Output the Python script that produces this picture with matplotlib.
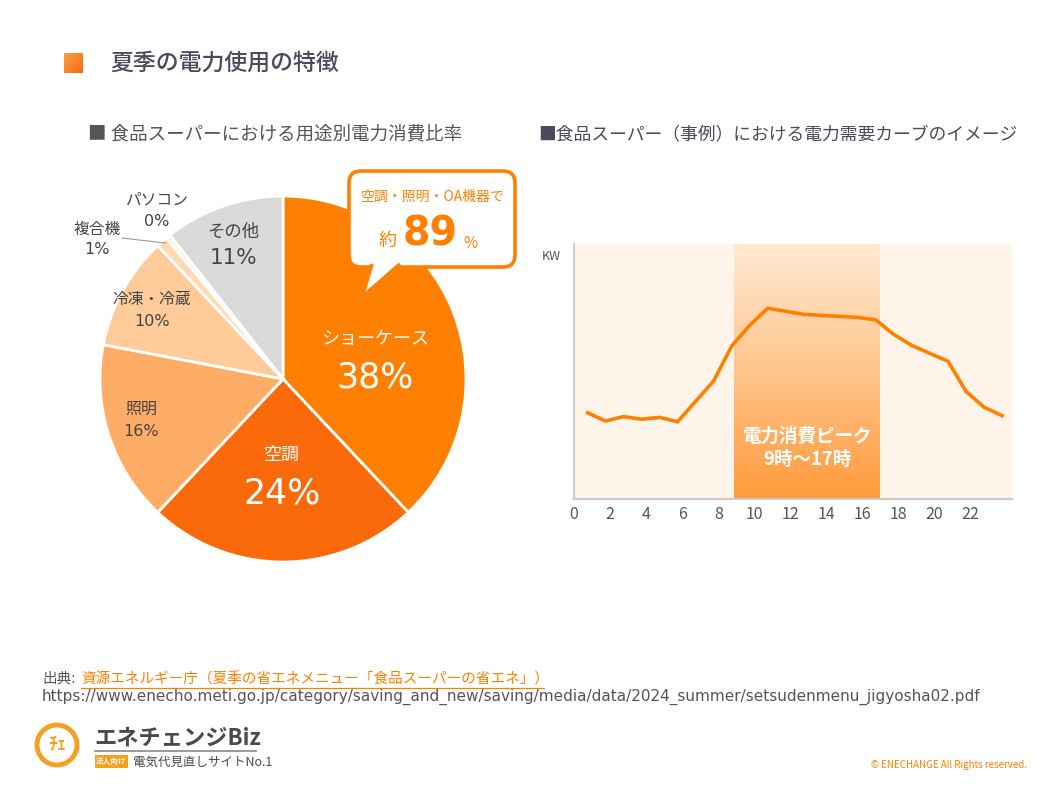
import numpy as np
import matplotlib
matplotlib.use("Agg")
import matplotlib.pyplot as plt
import matplotlib.patches as patches
from matplotlib.colors import LinearSegmentedColormap

plt.rcParams["font.family"] = ["Noto Sans CJK JP", "DejaVu Sans"]

# ---- data ----
pie_labels = ["ショーケース", "空調", "照明", "冷凍・冷蔵", "複合機", "パソコン", "その他"]
pie_pct_text = ["38%", "24%", "16%", "10%", "1%", "0%", "11%"]
pie_values = [38, 24, 16, 10, 1, 0.4, 10.6]
pie_colors = ["#FF8000", "#FA690A", "#FFAD66", "#FFCB99", "#FFD9B3", "#FFEBD6", "#DADADA"]

hours = [0.75, 1.75, 2.75, 3.75, 4.75, 5.75, 6.75, 7.75, 8.75, 9.75, 10.75, 11.75,
         12.75, 13.75, 14.75, 15.75, 16.75, 17.75, 18.75, 19.75, 20.75, 21.75, 22.75, 23.75]
demand = [33.8, 30.6, 32.3, 31.3, 32.0, 30.3, 38.3, 46.3, 60.0, 68.1, 74.8, 73.6,
          72.4, 72.0, 71.6, 71.2, 70.2, 64.5, 60.2, 57.1, 54.0, 42.2, 36.0, 32.7]
peak_start, peak_end = 8.9, 17.0
x_ticks = list(range(0, 24, 2))

W, H = 1058, 794
fig = plt.figure(figsize=(W / 100, H / 100), dpi=100)
fig.patch.set_facecolor("white")


def fbox(left, top, right, bottom):
    # pixel box (from top-left) -> figure fraction rect
    return [left / W, 1 - bottom / H, (right - left) / W, (bottom - top) / H]


# ---- pie ----
cx, cy, R = 283, 379, 183
half = 240
ax_pie = fig.add_axes(fbox(cx - half, cy - half, cx + half, cy + half))
ax_pie.pie(pie_values, colors=pie_colors, startangle=90, counterclock=False,
           radius=1.0, wedgeprops=dict(edgecolor="white", linewidth=2))
lim = half / R
ax_pie.set_xlim(-lim, lim)
ax_pie.set_ylim(-lim, lim)
ax_pie.set_aspect("equal")
ax_pie.axis("off")

# label layout (pixel centres of name line / pct line, sizes, colour)
label_layout = [
    ((375, 339), (375, 378), 13, 25, "white"),
    ((282, 455), (282, 493), 13, 25, "white"),
    ((141, 409), (141, 431), 11.5, 11.5, "#444444"),
    ((152, 299), (152, 321), 11.3, 11.5, "#444444"),
    ((97, 229), (97, 250), 11.3, 11.5, "#444444"),
    ((157, 200), (157, 222), 11.3, 11.5, "#444444"),
    ((233, 232), (233, 258), 12.5, 15.5, "#444444"),
]


def to_pie(p):
    return ((p[0] - cx) / R, (cy - p[1]) / R)


for name, pct, (p1, p2, s1, s2, col) in zip(pie_labels, pie_pct_text, label_layout):
    ax_pie.text(*to_pie(p1), name, ha="center", va="center", fontsize=s1, color=col)
    ax_pie.text(*to_pie(p2), pct, ha="center", va="center", fontsize=s2, color=col,
                family="DejaVu Sans")

# leader line for 複合機
ax_pie.plot(*zip(to_pie((122, 238)), to_pie((165, 243))), color="#999999", lw=0.8)

# ---- demand curve ----
ax = fig.add_axes(fbox(574, 244, 1012, 499))
ax.set_facecolor("#FEF4EA")
cmap = LinearSegmentedColormap.from_list("peak", ["#FFE9D3", "#FFC58C", "#FF9A3A"])
grad = np.linspace(0, 1, 256).reshape(-1, 1)
ax.imshow(grad, cmap=cmap, extent=[peak_start, peak_end, 0, 100], origin="upper",
          aspect="auto", zorder=1)
ax.set_xlim(0, 24.3)
ax.set_ylim(0, 100)
ax.plot(hours, demand, color="#FF8000", lw=2.6, zorder=3, solid_joinstyle="miter")
ax.text((peak_start + peak_end) / 2, 24.5, "電力消費ピーク", ha="center", va="center",
        color="white", fontsize=13.3, fontweight="bold", zorder=4)
ax.text((peak_start + peak_end) / 2, 15.5, "9時〜17時", ha="center", va="center",
        color="white", fontsize=13.3, fontweight="bold", zorder=4)
ax.set_xticks(x_ticks)
ax.set_yticks([])
ax.tick_params(axis="x", length=0, pad=5, labelsize=11.5, labelcolor="#555555")
for s in ["top", "right"]:
    ax.spines[s].set_visible(False)
for s in ["left", "bottom"]:
    ax.spines[s].set_color("#CCCCCC")
    ax.spines[s].set_linewidth(1.6)

# ---- overlay for titles / decoration ----
ov = fig.add_axes([0, 0, 1, 1], zorder=10)
ov.axis("off")
ov.patch.set_alpha(0)

sq = np.linspace(0, 1, 64)
sq = (sq[None, :] + sq[:, None]) / 2
ov.imshow(sq, cmap=LinearSegmentedColormap.from_list("sq", ["#FFA040", "#F26A10"]),
          extent=[64, 83, 73, 53], aspect="auto")
ov.set_xlim(0, W)
ov.set_ylim(H, 0)
ov.text(110, 63, "夏季の電力使用の特徴", fontsize=16.5, color="#4A4A5C", va="center",
        fontweight="medium")
ov.text(88, 134, "■ 食品スーパーにおける用途別電力消費比率", fontsize=13.3,
        color="#555555", va="center")
ov.text(538, 134, "■食品スーパー（事例）における電力需要カーブのイメージ", fontsize=12.8,
        color="#4A4A5C", va="center")
ov.text(551, 257, "KW", fontsize=9, color="#555555", ha="center", va="center")

# callout
orange = "#FF8000"
box = patches.FancyBboxPatch((349, 171), 166, 96, boxstyle="round,pad=0,rounding_size=12",
                             facecolor="white", edgecolor=orange, linewidth=2.6)
ov.add_patch(box)
tail = patches.Polygon([(372, 264), (362, 297), (400, 264)], closed=False,
                       facecolor="white", edgecolor=orange, linewidth=2.6,
                       joinstyle="miter")
ov.add_patch(tail)
ov.text(432, 197, "空調・照明・OA機器で", fontsize=10, color=orange, ha="center", va="center")
ov.text(388, 241, "約", fontsize=13, color=orange, ha="center", va="center")
ov.text(430, 235, "89", fontsize=28.5, color=orange, ha="center", va="center",
        fontweight="bold", family="DejaVu Sans")
ov.text(470, 243, "%", fontsize=11, color=orange, ha="center", va="center")

# footer
ov.text(42, 679, "出典:", fontsize=10.5, color="#555555", va="center")
ov.text(81, 679, "資源エネルギー庁（夏季の省エネメニュー「食品スーパーの省エネ」）",
        fontsize=10.5, color=orange, va="center")
ov.plot([81, 544], [688, 688], color=orange, lw=0.9)
ov.text(42, 697, "https://www.enecho.meti.go.jp/category/saving_and_new/saving/media/data/"
        "2024_summer/setsudenmenu_jigyosha02.pdf", fontsize=11, color="#555555",
        va="center", family="DejaVu Sans")

# logo
ov.add_patch(patches.Circle((57, 745), 20, facecolor="none", edgecolor="#F5A020", lw=3.5))
ov.text(57, 744, "ﾁｪ", fontsize=13, color="#F5A020", ha="center", va="center",
        fontweight="bold")
ov.text(94, 738, "エネチェンジBiz", fontsize=16, color="#4A4A4A", va="center",
        fontweight="bold")
ov.plot([95, 256], [751, 751], color="#888888", lw=1.2)
ov.add_patch(patches.Rectangle((95, 755), 33, 13, facecolor="#F5A020", edgecolor="none"))
ov.text(111.5, 761.5, "法人向け", fontsize=5.5, color="white", ha="center", va="center",
        fontweight="bold")
ov.text(133, 762, "電気代見直しサイトNo.1", fontsize=9, color="#4A4A4A", va="center")
ov.text(1027, 765, "© ENECHANGE All Rights reserved.", fontsize=7, color=orange,
        ha="right", va="center")

fig.savefig("out.png", dpi=100, facecolor="white")
